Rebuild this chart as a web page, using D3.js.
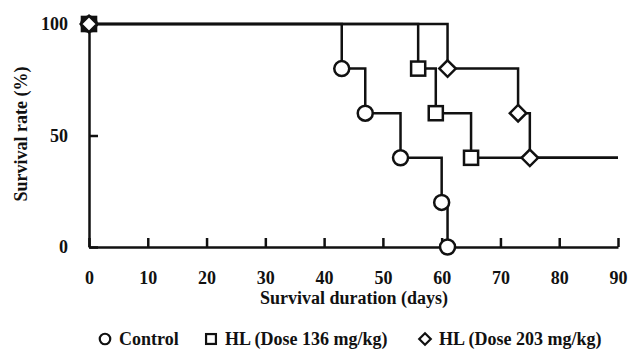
<!DOCTYPE html>
<html>
<head>
<meta charset="utf-8">
<script src="https://cdn.jsdelivr.net/npm/d3@7"></script>
<style>
  body { margin: 0; background: #fff; }
  text { font-family: "Liberation Serif", "Times New Roman", serif; font-weight: bold; fill: #111; }
</style>
</head>
<body>
<div id="chart"></div>
<script>

// Kaplan-Meier style survival steps (days, % alive)
var controlDays = [0, 43, 47, 53, 60, 61];
var controlSurv = [100, 80, 60, 40, 20, 0];
var hl136Days = [0, 56, 59, 65];
var hl136Surv = [100, 80, 60, 40];
var hl203Days = [0, 61, 73, 75];
var hl203Surv = [100, 80, 60, 40];

var xTicks = [0, 10, 20, 30, 40, 50, 60, 70, 80, 90];
var yTicks = [0, 50, 100];
var endDay = 90;

var width = 631, height = 349;

var svg = d3.select("#chart")
  .append("svg")
  .attr("width", width)
  .attr("height", height);

var x = d3.scaleLinear().domain([0, 90]).range([89, 618]);
var y = d3.scaleLinear().domain([0, 100]).range([247, 24]);

var ink = "#111";

// axes - ticks point inward
svg.append("g")
  .attr("transform", "translate(0," + y(0) + ")")
  .call(d3.axisBottom(x).tickValues(xTicks).tickSize(-9).tickSizeOuter(0).tickPadding(24))
  .call(function(g) {
    g.select(".domain").attr("stroke", ink).attr("stroke-width", 2.5);
    g.selectAll(".tick line").attr("stroke", ink).attr("stroke-width", 2.5);
    g.selectAll(".tick text").attr("font-size", 18).attr("font-family", null);
  });

svg.append("g")
  .attr("transform", "translate(" + x(0) + ",0)")
  .call(d3.axisLeft(y).tickValues(yTicks).tickSize(-9).tickSizeOuter(0).tickPadding(21))
  .call(function(g) {
    g.select(".domain").attr("stroke", ink).attr("stroke-width", 2.5);
    g.selectAll(".tick line").attr("stroke", ink).attr("stroke-width", 2.5);
    g.selectAll(".tick text").attr("font-size", 18).attr("font-family", null);
  });

svg.append("text")
  .attr("x", 354)
  .attr("y", 304)
  .attr("text-anchor", "middle")
  .attr("font-size", 18)
  .text("Survival duration (days)");

svg.append("text")
  .attr("transform", "translate(27,134) rotate(-90)")
  .attr("text-anchor", "middle")
  .attr("font-size", 18)
  .text("Survival rate (%)");

// build step lines
var line = d3.line()
  .x(function(d) { return x(d[0]); })
  .y(function(d) { return y(d[1]); })
  .curve(d3.curveStepAfter);

function pts(days, surv) {
  return days.map(function(d, i) { return [d, surv[i]]; });
}

var groups = [
  { name: "Control", sym: "circle", data: pts(controlDays, controlSurv), tail: false },
  { name: "HL (Dose 136 mg/kg)", sym: "square", data: pts(hl136Days, hl136Surv), tail: true },
  { name: "HL (Dose 203 mg/kg)", sym: "diamond", data: pts(hl203Days, hl203Surv), tail: true }
];

groups.forEach(function(gr) {
  var d = gr.data.slice();
  if (gr.tail) d.push([endDay, d[d.length - 1][1]]);
  svg.append("path")
    .attr("d", line(d))
    .attr("fill", "none")
    .attr("stroke", ink)
    .attr("stroke-width", 2.5);
});

function marker(sel, sym, cx, cy, s) {
  if (sym == "circle") {
    sel.append("circle").attr("cx", cx).attr("cy", cy).attr("r", s * 0.5);
  } else if (sym == "square") {
    sel.append("rect").attr("x", cx - s * 0.47).attr("y", cy - s * 0.47)
      .attr("width", s * 0.94).attr("height", s * 0.94);
  } else {
    var h = s * 0.55;
    sel.append("path").attr("d", "M" + cx + "," + (cy - h) + "L" + (cx + h) + "," + cy +
      "L" + cx + "," + (cy + h) + "L" + (cx - h) + "," + cy + "Z");
  }
}

// markers, square first so diamond sits on top at day 0
var order = [1, 0, 2];
order.forEach(function(k) {
  var gr = groups[k];
  var mg = svg.append("g").attr("fill", "#fff").attr("stroke", ink).attr("stroke-width", 2.5);
  gr.data.forEach(function(p) {
    marker(mg, gr.sym, x(p[0]), y(p[1]), 15);
  });
});

// legend
var legX = [105, 211, 425];
groups.forEach(function(gr, i) {
  var lg = svg.append("g");
  var mg = lg.append("g").attr("fill", "#fff").attr("stroke", ink).attr("stroke-width", 2.2);
  marker(mg, gr.sym, legX[i], 339, 10.5);
  lg.append("text")
    .attr("x", legX[i] + 14)
    .attr("y", 345)
    .attr("font-size", 18)
    .text(gr.name);
});

</script>
</body>
</html>
